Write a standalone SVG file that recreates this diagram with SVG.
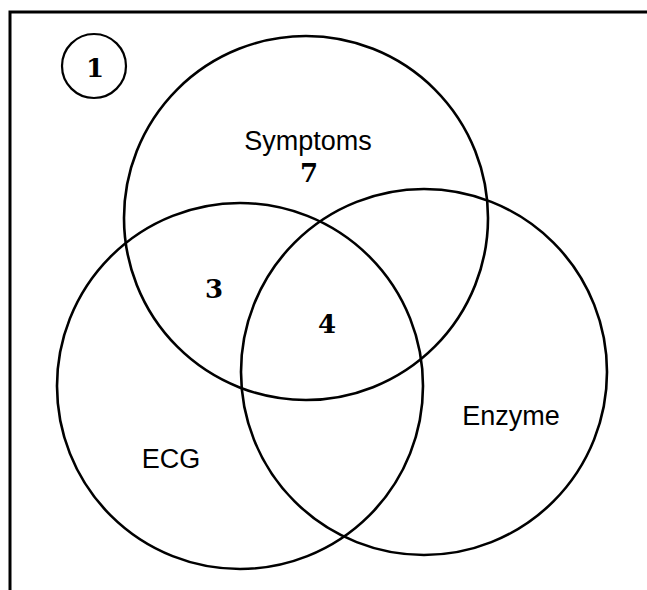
<svg xmlns="http://www.w3.org/2000/svg" width="647" height="590" viewBox="0 0 647 590">
  <style>
    .set { fill: none; stroke: #000; stroke-width: 2.6; }
    .badge { fill: none; stroke: #000; stroke-width: 2.2; }
    .frame { fill: none; stroke: #000; stroke-width: 3; }
    .label { font-family: "Liberation Sans", Arial, sans-serif; font-size: 27px; fill: #000; text-anchor: middle; }
    .num { font-family: "DejaVu Serif", "Liberation Serif", serif; font-weight: bold; font-size: 26px; fill: #000; text-anchor: middle; }
  </style>
  <rect width="647" height="590" fill="#fff"/>

  <!-- open frame: top and left edges only -->
  <g id="frame">
    <path class="frame" d="M10 590 V12 H647"/>
  </g>

  <!-- panel number -->
  <g id="badge">
    <circle class="badge" cx="94" cy="66" r="32"/>
    <text class="num" x="95" y="77">1</text>
  </g>

  <!-- Venn sets -->
  <g id="symptoms">
    <circle class="set" cx="306" cy="218" r="182"/>
    <text class="label" x="308" y="150">Symptoms</text>
    <text class="num" x="309" y="182">7</text>
  </g>
  <g id="ecg">
    <circle class="set" cx="240" cy="386" r="183"/>
    <text class="label" x="171" y="468">ECG</text>
  </g>
  <g id="enzyme">
    <circle class="set" cx="424" cy="372" r="183"/>
    <text class="label" x="511" y="425">Enzyme</text>
  </g>

  <!-- overlap counts -->
  <g id="overlaps">
    <text class="num" x="214" y="298">3</text>
    <text class="num" x="327" y="333">4</text>
  </g>
</svg>
